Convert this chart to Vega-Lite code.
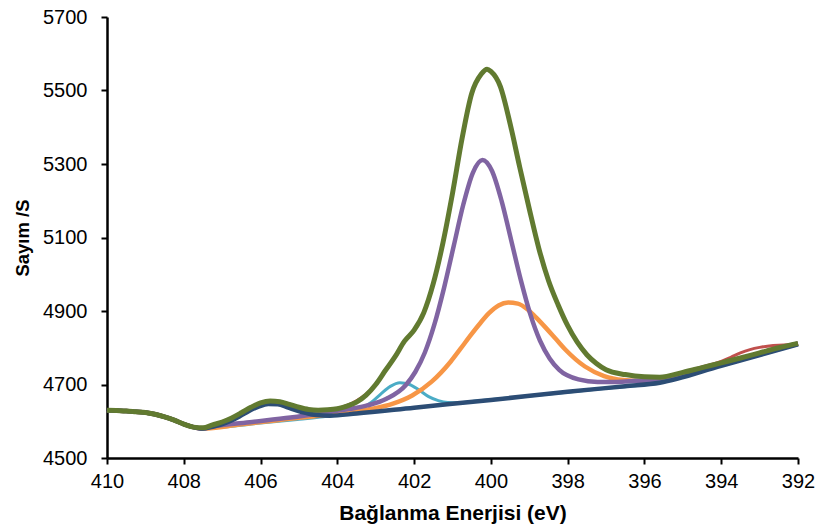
{
"$schema": "https://vega.github.io/schema/vega-lite/v6.json",
"width": 691,
"height": 441,
"autosize": {"type": "none"},
"padding": {"left": 107, "top": 17, "right": 22, "bottom": 72},
"background": "white",
"config": {"view": {"stroke": null}, "font": "Liberation Sans"},
"datasets": {
"c1": [{"e":410,"v":4630},{"e":409.75,"v":4629},{"e":409.5,"v":4628},{"e":409.25,"v":4626},{"e":409,"v":4624},{"e":408.75,"v":4619},{"e":408.5,"v":4612},{"e":408.25,"v":4603},{"e":408,"v":4592},{"e":407.75,"v":4584},{"e":407.5,"v":4580},{"e":407,"v":4584},{"e":406,"v":4595},{"e":405,"v":4605.5},{"e":404.37,"v":4612},{"e":403.87,"v":4619},{"e":403.62,"v":4625},{"e":403.37,"v":4635},{"e":403.12,"v":4651},{"e":402.87,"v":4674},{"e":402.62,"v":4695},{"e":402.37,"v":4705},{"e":402.12,"v":4700},{"e":401.87,"v":4685},{"e":401.62,"v":4667},{"e":401.37,"v":4656},{"e":401.12,"v":4651},{"e":400.87,"v":4650.5},{"e":400.37,"v":4655},{"e":399,"v":4669},{"e":397,"v":4690},{"e":395.6,"v":4705},{"e":394,"v":4751},{"e":392,"v":4809}],
"c3": [{"e":410,"v":4630},{"e":409.75,"v":4629},{"e":409.5,"v":4628},{"e":409.25,"v":4626},{"e":409,"v":4624},{"e":408.75,"v":4619},{"e":408.5,"v":4612},{"e":408.25,"v":4603},{"e":408,"v":4592},{"e":407.75,"v":4584},{"e":407.5,"v":4580},{"e":406.55,"v":4591},{"e":405.55,"v":4603},{"e":404.55,"v":4614},{"e":403.55,"v":4627},{"e":403.05,"v":4635},{"e":402.55,"v":4648},{"e":402.05,"v":4670},{"e":401.55,"v":4707},{"e":401.05,"v":4762},{"e":400.8,"v":4796},{"e":400.55,"v":4831},{"e":400.3,"v":4864},{"e":400.05,"v":4894},{"e":399.8,"v":4915},{"e":399.55,"v":4923},{"e":399.3,"v":4920},{"e":399.05,"v":4905},{"e":398.8,"v":4880},{"e":398.55,"v":4852},{"e":398.3,"v":4823},{"e":398.05,"v":4794},{"e":397.55,"v":4749},{"e":397.05,"v":4723},{"e":396.55,"v":4712},{"e":396.05,"v":4709},{"e":395.6,"v":4711},{"e":394,"v":4755},{"e":393,"v":4783},{"e":392,"v":4811}],
"c2": [{"e":410,"v":4630},{"e":409.75,"v":4629},{"e":409.5,"v":4628},{"e":409.25,"v":4626},{"e":409,"v":4624},{"e":408.75,"v":4619},{"e":408.5,"v":4612},{"e":408.25,"v":4603},{"e":408,"v":4592},{"e":407.75,"v":4584},{"e":407.5,"v":4580},{"e":407.22,"v":4586},{"e":406.22,"v":4598},{"e":405.22,"v":4610},{"e":404.22,"v":4625},{"e":403.72,"v":4633},{"e":403.22,"v":4643},{"e":402.72,"v":4661},{"e":402.22,"v":4698},{"e":401.97,"v":4734},{"e":401.72,"v":4787},{"e":401.47,"v":4864},{"e":401.22,"v":4963},{"e":400.97,"v":5076},{"e":400.72,"v":5189},{"e":400.47,"v":5276},{"e":400.22,"v":5311},{"e":399.97,"v":5281},{"e":399.72,"v":5199},{"e":399.47,"v":5092},{"e":399.22,"v":4984},{"e":398.97,"v":4890},{"e":398.72,"v":4819},{"e":398.47,"v":4771},{"e":398.22,"v":4740},{"e":397.72,"v":4714},{"e":397.22,"v":4707},{"e":396.72,"v":4707},{"e":396.22,"v":4710},{"e":395.6,"v":4713},{"e":394.5,"v":4742},{"e":393,"v":4784},{"e":392,"v":4812}],
"bg": [{"e":410,"v":4630},{"e":409.75,"v":4629},{"e":409.5,"v":4628},{"e":409.25,"v":4626},{"e":409,"v":4624},{"e":408.75,"v":4619},{"e":408.5,"v":4612},{"e":408.25,"v":4603},{"e":408,"v":4592},{"e":407.75,"v":4584},{"e":407.5,"v":4580},{"e":407.3,"v":4584},{"e":407.05,"v":4590},{"e":406.8,"v":4600},{"e":406.55,"v":4613},{"e":406.3,"v":4628},{"e":406.05,"v":4640},{"e":405.8,"v":4647},{"e":405.55,"v":4646},{"e":405.3,"v":4638},{"e":405.05,"v":4629},{"e":404.8,"v":4622},{"e":404.55,"v":4617},{"e":404.2,"v":4615},{"e":403.5,"v":4621},{"e":402,"v":4637},{"e":400,"v":4658},{"e":398,"v":4680},{"e":396.5,"v":4695.5},{"e":395.6,"v":4705},{"e":394,"v":4751},{"e":392,"v":4809}],
"raw": [{"e":410,"v":4630},{"e":409.75,"v":4629},{"e":409.5,"v":4628},{"e":409.25,"v":4626},{"e":409,"v":4624},{"e":408.75,"v":4619},{"e":408.5,"v":4612},{"e":408.25,"v":4603},{"e":408,"v":4592},{"e":407.75,"v":4584},{"e":407.5,"v":4582},{"e":407.25,"v":4590},{"e":407,"v":4598},{"e":406.75,"v":4609},{"e":406.5,"v":4623},{"e":406.25,"v":4638},{"e":406,"v":4650},{"e":405.75,"v":4655},{"e":405.5,"v":4653},{"e":405.25,"v":4646},{"e":405,"v":4638},{"e":404.75,"v":4632},{"e":404.5,"v":4630},{"e":404.25,"v":4631},{"e":404,"v":4635},{"e":403.75,"v":4643},{"e":403.5,"v":4656},{"e":403.25,"v":4674},{"e":403,"v":4700},{"e":402.75,"v":4738},{"e":402.5,"v":4775},{"e":402.25,"v":4818},{"e":402,"v":4848},{"e":401.75,"v":4895},{"e":401.5,"v":4975},{"e":401.25,"v":5085},{"e":401,"v":5220},{"e":400.75,"v":5370},{"e":400.5,"v":5492},{"e":400.25,"v":5545},{"e":400.1,"v":5558},{"e":400,"v":5552},{"e":399.75,"v":5510},{"e":399.5,"v":5410},{"e":399.25,"v":5292},{"e":399,"v":5178},{"e":398.75,"v":5070},{"e":398.5,"v":4983},{"e":398.25,"v":4917},{"e":398,"v":4860},{"e":397.75,"v":4815},{"e":397.5,"v":4781},{"e":397.25,"v":4757},{"e":397,"v":4740},{"e":396.5,"v":4727},{"e":396,"v":4721},{"e":395.6,"v":4720},{"e":395,"v":4733},{"e":394.5,"v":4748},{"e":394,"v":4763},{"e":393.75,"v":4774},{"e":393.5,"v":4786},{"e":393.25,"v":4795},{"e":393,"v":4801},{"e":392.75,"v":4805},{"e":392.5,"v":4807},{"e":392.25,"v":4808},{"e":392,"v":4810}],
"env": [{"e":410,"v":4630},{"e":409.75,"v":4629},{"e":409.5,"v":4628},{"e":409.25,"v":4626},{"e":409,"v":4624},{"e":408.75,"v":4619},{"e":408.5,"v":4612},{"e":408.25,"v":4603},{"e":408,"v":4592},{"e":407.75,"v":4584},{"e":407.5,"v":4582},{"e":407.25,"v":4590},{"e":407,"v":4598},{"e":406.75,"v":4609},{"e":406.5,"v":4623},{"e":406.25,"v":4638},{"e":406,"v":4650},{"e":405.75,"v":4655},{"e":405.5,"v":4653},{"e":405.25,"v":4646},{"e":405,"v":4638},{"e":404.75,"v":4632},{"e":404.5,"v":4630},{"e":404.25,"v":4631},{"e":404,"v":4634},{"e":403.75,"v":4641},{"e":403.5,"v":4652},{"e":403.25,"v":4671},{"e":403,"v":4700},{"e":402.75,"v":4738},{"e":402.5,"v":4775},{"e":402.25,"v":4818},{"e":402,"v":4848},{"e":401.75,"v":4895},{"e":401.5,"v":4975},{"e":401.25,"v":5085},{"e":401,"v":5220},{"e":400.75,"v":5370},{"e":400.5,"v":5492},{"e":400.25,"v":5545},{"e":400.1,"v":5558},{"e":400,"v":5552},{"e":399.75,"v":5510},{"e":399.5,"v":5410},{"e":399.25,"v":5292},{"e":399,"v":5178},{"e":398.75,"v":5070},{"e":398.5,"v":4983},{"e":398.25,"v":4917},{"e":398,"v":4860},{"e":397.75,"v":4815},{"e":397.5,"v":4781},{"e":397.25,"v":4757},{"e":397,"v":4740},{"e":396.5,"v":4727},{"e":396,"v":4721},{"e":395.6,"v":4720},{"e":395,"v":4733},{"e":394.5,"v":4746},{"e":394,"v":4759},{"e":393.5,"v":4772},{"e":393,"v":4786},{"e":392.5,"v":4800},{"e":392,"v":4812}]
},
"encoding": {
"x": {"field": "e", "type": "quantitative",
 "scale": {"domain": [392, 410], "reverse": true, "nice": false, "zero": false},
 "axis": {"values": [392,394,396,398,400,402,404,406,408,410], "format": "d", "title": "Bağlanma Enerjisi (eV)",
  "grid": false, "domainColor": "black", "domainWidth": 2.5, "tickColor": "black", "tickWidth": 2, "tickSize": 6,
  "labelFontSize": 20, "labelColor": "black", "labelPadding": 7, "labelFlush": false,
  "titleFontSize": 21, "titleFontWeight": "bold", "titleColor": "black", "titlePadding": 11}},
"y": {"field": "v", "type": "quantitative",
 "scale": {"domain": [4500, 5700], "nice": false, "zero": false},
 "axis": {"values": [4500,4700,4900,5100,5300,5500,5700], "format": "d", "title": "Sayım /S",
  "grid": false, "domainColor": "black", "domainWidth": 2.5, "tickColor": "black", "tickWidth": 2, "tickSize": 6,
  "labelFontSize": 20, "labelColor": "black", "labelPadding": 14, "labelFlush": false,
  "titleFontSize": 18.5, "titleFontWeight": "bold", "titleColor": "black", "titlePadding": 10}}
},
"layer": [
{"data": {"name": "c1"}, "encoding": {}, "mark": {"type": "line", "color": "#4BACC6", "strokeWidth": 3, "interpolate": "monotone"}},
{"data": {"name": "c3"}, "encoding": {}, "mark": {"type": "line", "color": "#F79646", "strokeWidth": 4.5, "interpolate": "monotone"}},
{"data": {"name": "c2"}, "encoding": {}, "mark": {"type": "line", "color": "#8064A2", "strokeWidth": 4.5, "interpolate": "monotone"}},
{"data": {"name": "bg"}, "encoding": {}, "mark": {"type": "line", "color": "#2C4D75", "strokeWidth": 4.5, "interpolate": "monotone"}},
{"data": {"name": "raw"}, "encoding": {}, "mark": {"type": "line", "color": "#C0504D", "strokeWidth": 3, "interpolate": "monotone"}},
{"data": {"name": "env"}, "encoding": {}, "mark": {"type": "line", "color": "#617A30", "strokeWidth": 5, "interpolate": "monotone"}}
]
}
